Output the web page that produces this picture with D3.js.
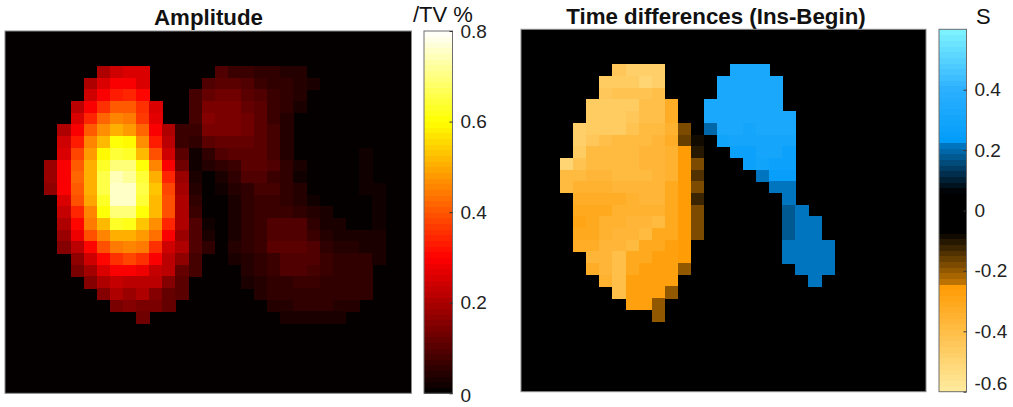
<!DOCTYPE html>
<html>
<head>
<meta charset="utf-8">
<script src="https://cdn.jsdelivr.net/npm/d3@7"></script>
<style>
  html, body { margin: 0; background: #fff; }
  svg { display: block; }
  text { font-family: "Liberation Sans", Arial, sans-serif; fill: #111; }
  .title { font-weight: bold; font-size: 22.3px; text-anchor: middle; }
  .unit { font-size: 22px; }
  .tick text { font-size: 19px; fill: #222; }
</style>
</head>
<body>
<svg id="chart" width="1013" height="407"></svg>
<script>
const GRID_SIZE = 31;
const FIRST_ROW = 3;

const titles = ["Amplitude", "Time differences (Ins-Begin)"];
const units = ["/TV %", "S"];
const amplitudeTicks = [0, 0.2, 0.4, 0.6, 0.8];
const timeTicks = [-0.6, -0.4, -0.2, 0, 0.2, 0.4];

// first column of each row below, rows start at FIRST_ROW
const amplitudeStart = [7, 6, 6, 5, 5, 4, 4, 4, 3, 3, 3, 4, 4, 4, 4, 4, 5, 5, 6, 7, 8, 10];
const amplitudeRows = [
  [.2, .24, .26, .25, 0, 0, 0, 0, 0, .09, .07, .07, .06, .05, .04, .04],
  [.2, .25, .29, .3, .26, 0, 0, 0, 0, .09, .11, .11, .09, .07, .06, .05, .04, .03],
  [.24, .3, .33, .34, .31, 0, 0, 0, .08, .12, .13, .13, .11, .09, .07, .05, .04],
  [.22, .29, .36, .41, .41, .36, .26, 0, 0, .08, .14, .14, .14, .12, .1, .07, .05, .03],
  [.26, .34, .42, .45, .44, .37, .27, 0, 0, .08, .16, .15, .15, .13, .1, .07, .04],
  [.21, .3, .41, .47, .5, .48, .42, .3, .2, .07, .07, .14, .14, .14, .13, .11, .08, .04],
  [.24, .33, .45, .52, .61, .6, .47, .33, .22, .07, .05, .11, .12, .12, .12, .11, .08, .04],
  [.26, .38, .48, .6, .64, .63, .52, .39, .24, .1, .02, .05, .09, .1, .11, .11, .08, .04, 0, 0, 0, 0, 0, .02],
  [.18, .29, .41, .5, .63, .7, .69, .61, .45, .3, .13, .02, .04, .05, .07, .1, .1, .09, .06, .03, 0, 0, 0, 0, .02],
  [.18, .29, .42, .5, .65, .74, .72, .64, .5, .35, .18, .03, .01, .03, .05, .09, .09, .07, .05, .02, 0, 0, 0, 0, .02],
  [.17, .3, .41, .5, .66, .76, .75, .66, .53, .38, .19, .04, .01, .02, .04, .06, .08, .08, .05, .04, 0, 0, 0, 0, .02, .02],
  [.26, .39, .49, .63, .76, .75, .64, .52, .39, .21, .06, 0, 0, .03, .05, .07, .07, .06, .04, .02, 0, 0, 0, 0, .02],
  [.23, .35, .45, .61, .7, .7, .61, .52, .39, .2, .07, 0, 0, .03, .05, .07, .07, .07, .06, .04, .03, 0, 0, 0, .02],
  [.2, .31, .44, .52, .63, .62, .53, .47, .35, .2, .09, .02, 0, .03, .05, .07, .09, .09, .09, .05, .03, .025, 0, 0, .02],
  [.18, .28, .39, .45, .5, .5, .48, .43, .3, .18, .09, .03, 0, .03, .05, .07, .09, .09, .09, .07, .04, .035, .025, .025, .025],
  [.16, .22, .31, .39, .44, .45, .44, .36, .24, .2, .09, .05, 0, .04, .05, .07, .1, .1, .1, .09, .06, .045, .04, .035, .035],
  [.17, .24, .31, .36, .38, .36, .3, .22, .17, .08, 0, 0, .03, .04, .06, .07, .09, .09, .09, .07, .06, .05, .05, .035],
  [.14, .19, .25, .3, .3, .28, .23, .22, .12, .08, 0, 0, 0, .04, .05, .07, .09, .09, .08, .07, .06, .05, .05],
  [.16, .21, .23, .22, .22, .22, .16, .11, 0, 0, 0, 0, .03, .04, .05, .06, .07, .07, .06, .06, .05, .05],
  [.16, .2, .18, .2, .16, .12, .11, 0, 0, 0, 0, 0, .04, .05, .05, .06, .06, .05, .05, .05, .05],
  [.15, .16, .15, .14, .12, 0, 0, 0, 0, 0, 0, 0, .04, .04, .05, .05, .05, .04, .04],
  [.13, 0, 0, 0, 0, 0, 0, 0, 0, 0, 0, .03, .035, .035, .035, .03],
];

const timeStart = [7, 6, 6, 5, 5, 4, 4, 4, 3, 3, 3, 4, 4, 4, 4, 4, 5, 5, 6, 7, 8, 10];
const timeRows = [
  [-.44, -.47, -.48, -.48, 0, 0, 0, 0, 0, .33, .33, .32],
  [-.46, -.46, -.46, -.49, -.47, 0, 0, 0, 0, .33, .33, .33, .32, .32],
  [-.45, -.43, -.43, -.43, -.41, 0, 0, 0, 0, .33, .33, .33, .32, .32],
  [-.46, -.46, -.46, -.46, -.41, -.4, -.33, 0, 0, .33, .33, .33, .33, .32, .32],
  [-.46, -.46, -.46, -.45, -.41, -.4, -.33, 0, 0, .32, .32, .32, .33, .32, .32, .32],
  [-.47, -.46, -.46, -.46, -.42, -.39, -.38, -.34, -.17, 0, .2, .32, .32, .31, .32, .32, .32],
  [-.47, -.45, -.41, -.38, -.38, -.38, -.37, -.33, -.16, -.08, 0, .29, .31, .31, .31, .31, .31],
  [-.46, -.38, -.38, -.38, -.38, -.37, -.37, -.34, -.25, -.11, 0, 0, .28, .28, .31, .31, .27],
  [-.49, -.42, -.38, -.38, -.38, -.38, -.37, -.36, -.34, -.25, -.17, 0, 0, 0, .28, .29, .28, .27],
  [-.39, -.38, -.37, -.37, -.38, -.38, -.38, -.36, -.35, -.26, -.15, 0, 0, 0, 0, .22, .25, .25],
  [-.39, -.34, -.34, -.34, -.36, -.37, -.37, -.36, -.31, -.26, -.17, 0, 0, 0, 0, 0, .22, .21],
  [-.33, -.33, -.33, -.32, -.34, -.36, -.36, -.31, -.26, -.13, 0, 0, 0, 0, 0, 0, .21],
  [-.31, -.31, -.31, -.34, -.34, -.35, -.35, -.31, -.26, -.18, 0, 0, 0, 0, 0, 0, .17, .21],
  [-.29, -.31, -.34, -.34, -.37, -.37, -.38, -.31, -.26, -.18, 0, 0, 0, 0, 0, 0, .17, .21, .21],
  [-.31, -.31, -.34, -.37, -.37, -.39, -.31, -.31, -.26, -.18, 0, 0, 0, 0, 0, 0, .17, .21, .21],
  [-.33, -.33, -.37, -.37, -.39, -.3, -.3, -.28, -.26, 0, 0, 0, 0, 0, 0, 0, .21, .21, .21, .21],
  [-.37, -.37, -.41, -.31, -.31, -.27, -.27, -.26, 0, 0, 0, 0, 0, 0, 0, .21, .21, .21, .21],
  [-.33, -.37, -.41, -.31, -.27, -.27, -.27, -.2, 0, 0, 0, 0, 0, 0, 0, 0, .21, .21, .21],
  [-.34, -.41, -.27, -.27, -.27, -.27, 0, 0, 0, 0, 0, 0, 0, 0, 0, 0, .21],
  [-.41, -.27, -.27, -.27, -.2],
  [-.27, -.27, -.2],
  [-.2],
];

const COLOR_LEVELS = 64;

const hotRamp = d3.scaleLinear()
  .domain([0, 0.375, 0.75, 1])
  .range(["#000000", "#ff0000", "#ffff00", "#ffffff"]);

const signedRamp = d3.scaleLinear()
  .domain([-0.6, -0.24, -0.235, -0.07, 0.06, 0.22, 0.225, 0.4, 0.6])
  .range(["#ffeca0", "#ff9900", "#bd7200", "#000000", "#000000", "#0078c4", "#009cf8", "#2cb0ff", "#80f4ff"]);

const panels = [
  {
    title: titles[0], titleX: 208.5, titleY: 25, unit: units[0], unitX: 413, unitY: 22,
    x: [5, 411.5], y: [31, 393.3], barX: [424, 452.5],
    domain: [0, 0.8], ticks: amplitudeTicks,
    ramp: (v) => hotRamp(v / 0.8),
    starts: amplitudeStart, rows: amplitudeRows,
    labelShift: (d) => (d === 0 ? 2 : 0),
  },
  {
    title: titles[1], titleX: 716, titleY: 24, unit: units[1], unitX: 976, unitY: 24,
    x: [521, 926], y: [29.3, 391.7], barX: [939, 966.5],
    domain: [-0.6, 0.6], ticks: timeTicks,
    ramp: signedRamp,
    starts: timeStart, rows: timeRows,
    labelShift: (d) => (d === -0.6 ? -8 : 0),
  },
];

const svg = d3.select("#chart");
panels.forEach(drawPanel);

function drawPanel(panel) {
  const step = (panel.domain[1] - panel.domain[0]) / COLOR_LEVELS;
  const levels = d3.range(COLOR_LEVELS).map((i) => panel.domain[0] + step * (i + 0.5));
  const color = d3.scaleQuantize().domain(panel.domain).range(levels.map(panel.ramp));

  const xScale = d3.scaleBand().domain(d3.range(GRID_SIZE)).range(panel.x);
  const yScale = d3.scaleBand().domain(d3.range(GRID_SIZE)).range(panel.y);

  svg.append("text")
    .attr("class", "title")
    .attr("x", panel.titleX)
    .attr("y", panel.titleY)
    .text(panel.title);

  svg.append("rect")
    .attr("x", panel.x[0])
    .attr("y", panel.y[0])
    .attr("width", panel.x[1] - panel.x[0])
    .attr("height", panel.y[1] - panel.y[0])
    .attr("fill", color(0));

  const cells = panel.rows.flatMap((values, rowIndex) =>
    values.map((value, i) => ({
      row: FIRST_ROW + rowIndex,
      col: panel.starts[rowIndex] + i,
      value,
    })),
  ).filter((d) => d.value !== 0);

  svg.append("g")
    .attr("shape-rendering", "crispEdges")
    .selectAll("rect")
    .data(cells)
    .join("rect")
    .attr("x", (d) => xScale(d.col))
    .attr("y", (d) => yScale(d.row))
    .attr("width", xScale.bandwidth() + 0.5)
    .attr("height", yScale.bandwidth() + 0.5)
    .attr("fill", (d) => color(d.value));

  svg.append("rect")
    .attr("x", panel.x[0])
    .attr("y", panel.y[0])
    .attr("width", panel.x[1] - panel.x[0])
    .attr("height", panel.y[1] - panel.y[0])
    .attr("fill", "none")
    .attr("stroke", "#8a8a8a");

  drawColorbar(panel, levels, color);
}

function drawColorbar(panel, levels, color) {
  const barScale = d3.scaleLinear().domain(panel.domain).range([panel.y[1], panel.y[0]]);
  const barStep = (panel.y[1] - panel.y[0]) / COLOR_LEVELS;

  svg.append("g")
    .attr("shape-rendering", "crispEdges")
    .selectAll("rect")
    .data(levels)
    .join("rect")
    .attr("x", panel.barX[0])
    .attr("y", (d) => barScale(d) - barStep / 2)
    .attr("width", panel.barX[1] - panel.barX[0])
    .attr("height", barStep + 0.5)
    .attr("fill", (d) => color(d));

  svg.append("rect")
    .attr("x", panel.barX[0])
    .attr("y", panel.y[0])
    .attr("width", panel.barX[1] - panel.barX[0])
    .attr("height", panel.y[1] - panel.y[0])
    .attr("fill", "none")
    .attr("stroke", "#6e6e6e");

  const axis = d3.axisRight(barScale)
    .tickValues(panel.ticks)
    .tickSize(-3)
    .tickPadding(8)
    .tickFormat(String);

  const axisGroup = svg.append("g")
    .attr("transform", `translate(${panel.barX[1]},0)`)
    .call(axis);

  axisGroup.select(".domain").remove();
  axisGroup.selectAll(".tick line").attr("stroke", "#333");
  axisGroup.selectAll(".tick text")
    .attr("x", 8)
    .attr("dy", (d) => `${0.32 + panel.labelShift(d) / 19}em`);

  svg.append("text")
    .attr("class", "unit")
    .attr("x", panel.unitX)
    .attr("y", panel.unitY)
    .text(panel.unit);
}
</script>
</body>
</html>
